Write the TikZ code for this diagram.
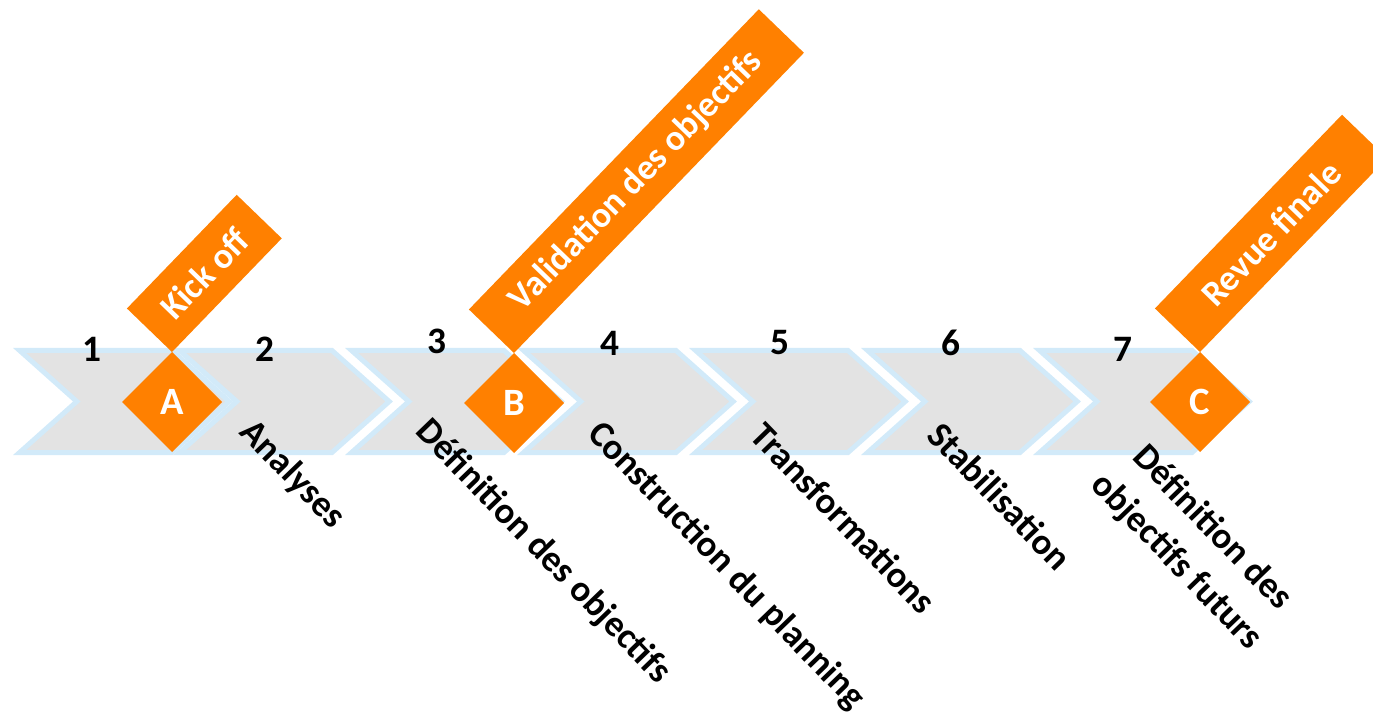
\documentclass[tikz,border=0pt]{standalone}
\usepackage{fontspec}
\setmainfont{Carlito}
\usetikzlibrary{shapes.geometric}
\definecolor{orng}{RGB}{255,128,0}
\definecolor{chevfill}{RGB}{227,227,227}
\definecolor{chevedge}{RGB}{210,234,249}
\begin{document}
\begin{tikzpicture}[x=0.75pt,y=-0.75pt,
  chev/.style={fill=chevfill, draw=chevedge, line width=3.75pt, line join=miter},
  diam/.style={diamond, fill=orng, inner sep=0pt, outer sep=0pt, minimum width=75pt, minimum height=75pt, text=white, font=\fontsize{29}{32}\selectfont\bfseries},
  banner/.style={rectangle, fill=orng, inner sep=0pt, outer sep=0pt, minimum height=47pt, text=white, font=\fontsize{27}{30}\selectfont\bfseries, rotate=46, anchor=south west},
  num/.style={font=\fontsize{28}{30}\selectfont\bfseries, inner sep=0pt},
  lbl/.style={font=\fontsize{27.5}{37}\selectfont\bfseries, rotate=-46, inner sep=0pt, align=center}]
\useasboundingbox (0,0) rectangle (1373,712);
\clip (0,0) rectangle (1373,712);
% chevrons
\foreach \L in {13,173,345,517,689,861,1033}{
  \path[chev] (\L+6.6,350.5) -- (\L+159,350.5) -- (\L+216.2,401.5) -- (\L+159,452.5) -- (\L+6.6,452.5) -- (\L+63.8,401.5) -- cycle;
}
% milestones
\node[diam] (A) at (172,402) {A};
\node[diam] (B) at (514,403) {B};
\node[diam] (C) at (1200,402) {C};
\node[banner, minimum width=118.5pt] (kick) at (A.north) {Kick off};
\node[banner, minimum width=313pt] (valid) at (B.north) {Validation des objectifs};
\node[banner, minimum width=202pt] (revue) at (C.north) {Revue finale};
% numbers
\node[num] (n1) at (92,349) {1};
\node[num] (n2) at (265,349) {2};
\node[num] (n3) at (437,341) {3};
\node[num] (n4) at (610,343) {4};
\node[num] (n5) at (780,343) {5};
\node[num] (n6) at (951,343) {6};
\node[num] (n7) at (1123,349) {7};
% labels
\node[lbl] (l2) at (292,475) {Analyses};
\node[lbl] (l3) at (543,552) {Définition des objectifs};
\node[lbl] (l4) at (726,566) {Construction du planning};
\node[lbl] (l5) at (844,518) {Transformations};
\node[lbl] (l6) at (1000,496) {Stabilisation};
\node[lbl] (l7) at (1194,545) {Définition des\\objectifs futurs};
\end{tikzpicture}
\end{document}
